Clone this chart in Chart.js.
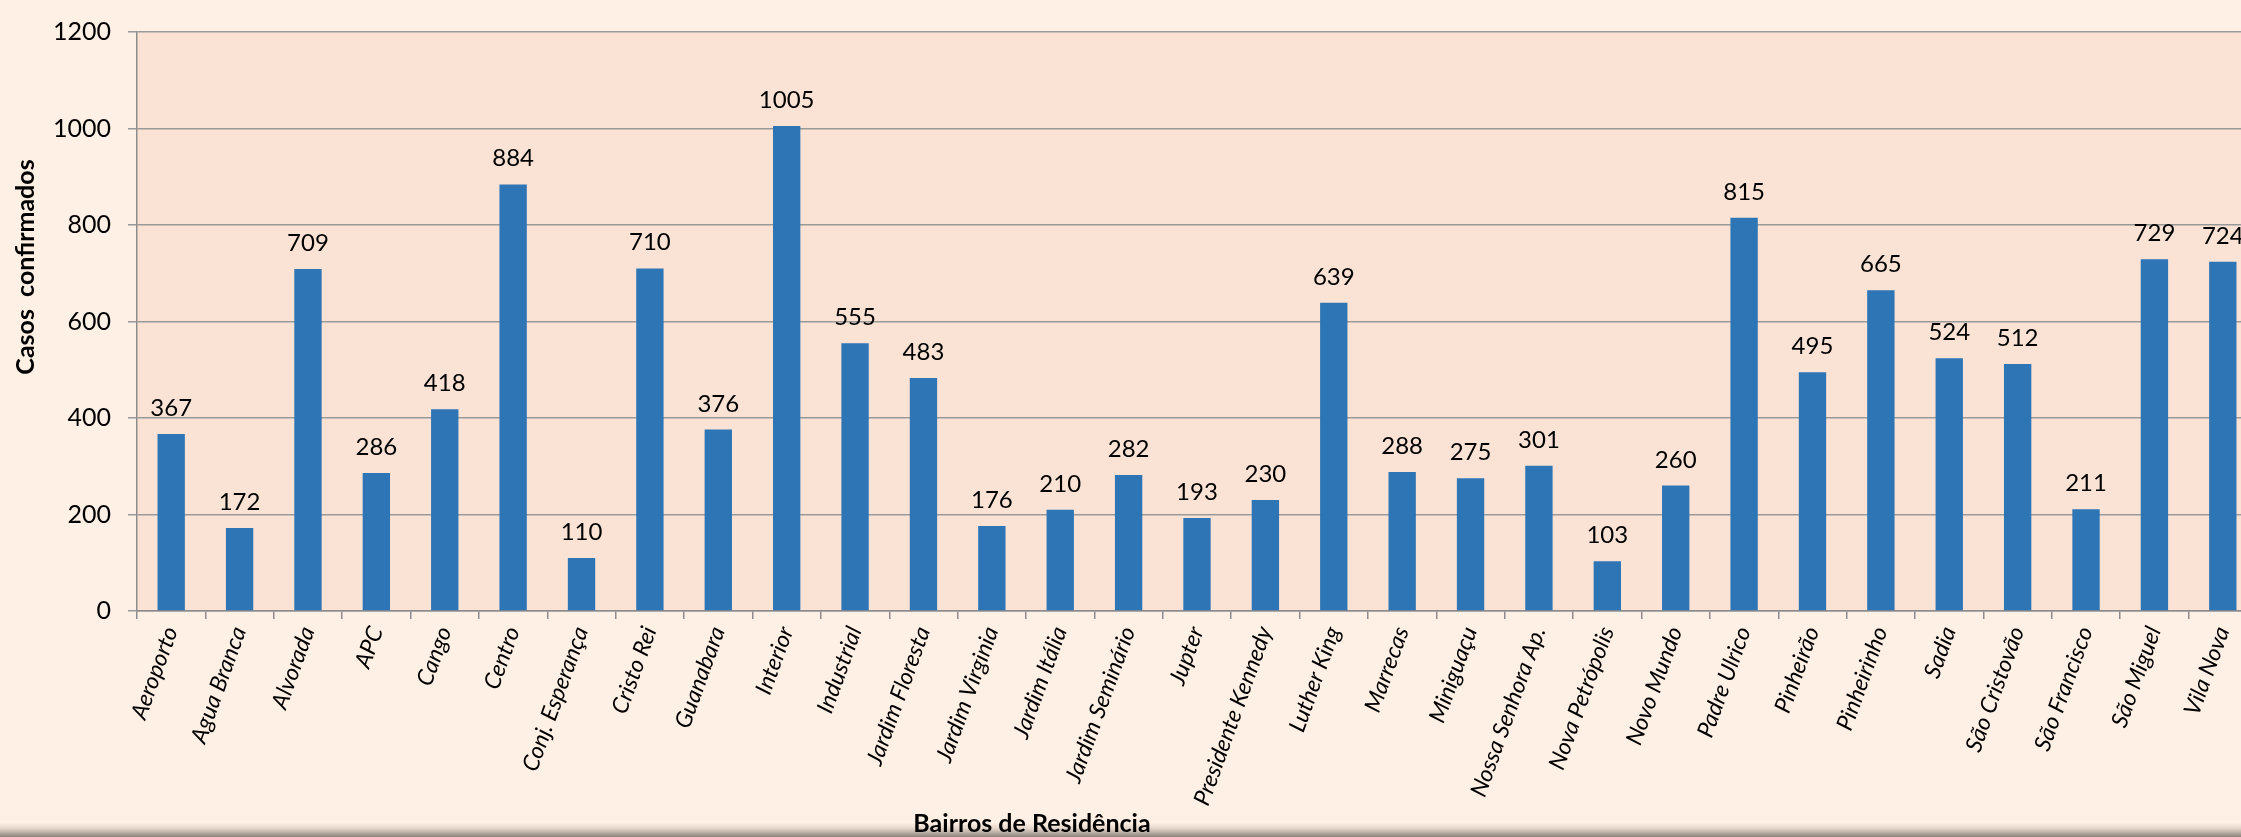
<!DOCTYPE html>
<html>
<head>
<meta charset="utf-8">
<script src="https://cdn.jsdelivr.net/npm/chart.js@4.4.1/dist/chart.umd.min.js"></script>
<style>
    html, body { margin: 0; padding: 0; }
    body { width: 2241px; height: 837px; overflow: hidden; background: #fef0e4; position: relative; }
    #wrap { position: absolute; left: 0; top: 0; z-index: 2; }
    .shadow { position: absolute; left: 0; right: 0; bottom: 0; height: 14px; z-index: 1;
              background: linear-gradient(to bottom, rgba(254,240,228,0) 0%, #e2d4c9 40%, #8d827c 100%); }
</style>
</head>
<body>
<div class="shadow"></div>
<div id="wrap"><canvas id="casosChart" width="2262" height="837"></canvas></div>
<script>
// ==========================================
// DADOS
// ==========================================
const bairros = [
    'Aeroporto', 'Agua Branca', 'Alvorada', 'APC', 'Cango', 'Centro', 'Conj. Esperança',
    'Cristo Rei', 'Guanabara', 'Interior', 'Industrial', 'Jardim Floresta', 'Jardim Virginia',
    'Jardim Itália', 'Jardim Seminário', 'Jupter', 'Presidente Kennedy', 'Luther King',
    'Marrecas', 'Miniguaçu', 'Nossa Senhora Ap.', 'Nova Petrópolis', 'Novo Mundo',
    'Padre Ulrico', 'Pinheirão', 'Pinheirinho', 'Sadia', 'São Cristovão', 'São Francisco',
    'São Miguel', 'Vila Nova'
];
const casosConfirmados = [
    367, 172, 709, 286, 418, 884, 110, 710, 376, 1005, 555, 483, 176, 210, 282, 193,
    230, 639, 288, 275, 301, 103, 260, 815, 495, 665, 524, 512, 211, 729, 724
];
const yMin = 0;
const yMax = 1200;
const yStep = 200;

const tituloY = 'Casos  confirmados';
const tituloX = 'Bairros de Residência';

// ==========================================
// PLUGINS
// ==========================================
const fundoArea = {
    id: 'fundoArea',
    beforeDraw(chart) {
        const { ctx, chartArea } = chart;
        ctx.save();
        ctx.fillStyle = '#fae3d5';
        ctx.fillRect(chartArea.left, chartArea.top, chartArea.right - chartArea.left, chartArea.bottom - chartArea.top);
        ctx.restore();
    }
};

// rótulos de valor acima das barras
const rotulosValor = {
    id: 'rotulosValor',
    afterDatasetsDraw(chart) {
        const { ctx } = chart;
        const meta = chart.getDatasetMeta(0);
        ctx.save();
        ctx.font = '24px Lato';
        ctx.fillStyle = '#000';
        ctx.textAlign = 'center';
        ctx.textBaseline = 'alphabetic';
        meta.data.forEach((bar, i) => {
            ctx.fillText(casosConfirmados[i], bar.x, bar.y - 18);
        });
        ctx.restore();
    }
};

// títulos dos eixos (posição igual ao original, fora do centro do eixo)
const titulosEixos = {
    id: 'titulosEixos',
    afterDraw(chart) {
        const { ctx } = chart;
        ctx.save();
        ctx.font = 'bold 25px Lato';
        ctx.fillStyle = '#000';
        ctx.textAlign = 'center';
        ctx.textBaseline = 'middle';
        ctx.translate(26, 267);
        ctx.rotate(-Math.PI / 2);
        ctx.fillText(tituloY, 0, 0);
        ctx.restore();

        ctx.save();
        ctx.font = 'bold 25px Lato';
        ctx.fillStyle = '#000';
        ctx.textAlign = 'center';
        ctx.textBaseline = 'alphabetic';
        ctx.fillText(tituloX, 1032, 832);
        ctx.restore();
    }
};

// ==========================================
// GRÁFICO
// ==========================================
const ctx = document.getElementById('casosChart');

new Chart(ctx, {
    type: 'bar',
    data: {
        labels: bairros,
        datasets: [{
            label: tituloY,
            data: casosConfirmados,
            backgroundColor: '#2e75b6',
            borderWidth: 0,
            barPercentage: 0.4,
            categoryPercentage: 1
        }]
    },
    options: {
        responsive: false,
        animation: false,
        layout: { padding: { top: 24, right: 5, left: 0, bottom: 0 } },
        plugins: {
            legend: { display: false },
            tooltip: { enabled: false }
        },
        scales: {
            x: {
                afterFit(scale) { scale.height = 226; },
                border: { color: '#8c8c8c', width: 1.5 },
                grid: { drawOnChartArea: false, color: '#8c8c8c', tickLength: 8, lineWidth: 1.5 },
                ticks: {
                    color: '#000',
                    font: { family: 'Lato', size: 23, style: 'italic' },
                    maxRotation: 70,
                    minRotation: 70,
                    autoSkip: false,
                    padding: 4
                }
            },
            y: {
                min: yMin,
                max: yMax,
                afterFit(scale) { scale.width = 137; },
                border: { color: '#8c8c8c', width: 1.5 },
                grid: { color: '#999999', tickLength: 9, lineWidth: 1.5 },
                ticks: {
                    stepSize: yStep,
                    color: '#000',
                    font: { family: 'Lato', size: 25 },
                    padding: 17,
                    callback: v => String(v)
                }
            }
        }
    },
    plugins: [fundoArea, rotulosValor, titulosEixos]
});
</script>
</body>
</html>
